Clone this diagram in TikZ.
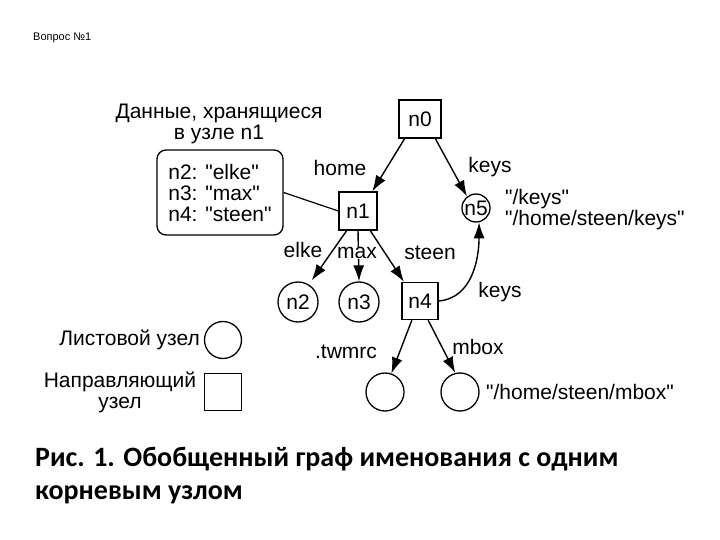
\documentclass[tikz,border=0pt]{standalone}
\usepackage{fontspec}
\newfontfamily\lsans{Liberation Sans}
\newfontfamily\capfont{Carlito}
\usetikzlibrary{arrows.meta}
\tikzset{
  dirnode/.style={draw,line width=1.3pt,rectangle,minimum width=37pt,minimum height=37pt,inner sep=0pt},
  leafnode/.style={draw,line width=1.3pt,circle,minimum size=40pt,inner sep=0pt},
  lbl/.style={inner sep=0pt},
  conn/.style={line width=1.4pt,arrows={-{Latex[length=16pt,width=11pt]}}}
}
\begin{document}
\begin{tikzpicture}[x=1pt,y=1pt,
  every node/.style={font=\lsans\fontsize{21}{21}\selectfont}]
\useasboundingbox (0,0) rectangle (720,-540);
\node[lbl,anchor=west,font=\lsans\fontsize{11}{12}\selectfont] (hdr) at (33,-38) {Вопрос №1};

\node[dirnode,minimum width=42pt,minimum height=38pt] (n0) at (420,-119) {n0};
\node[dirnode,minimum width=38pt,minimum height=38pt] (n1) at (358,-211) {n1};
\node[dirnode,minimum width=36pt] (n4) at (420,-301) {n4};
\node[leafnode,minimum size=28pt] (n5) at (476,-208) {n5};
\node[leafnode] (n2) at (298,-302) {n2};
\node[leafnode] (n3) at (359,-302) {n3};
\node[leafnode,minimum size=38pt] (l1) at (385,-392) {};
\node[leafnode,minimum size=38pt] (l2) at (460,-392) {};

\node[draw,line width=1.3pt,rounded corners=9pt,minimum width=126pt,minimum height=85pt,align=left,inner sep=0pt] (data) at (220,-192.5) {n2: "elke"\\n3: "max"\\n4: "steen"};
\node[lbl,align=center] (title) at (219,-124) {Данные, хранящиеся\\в узле n1};
\draw[line width=1.2pt] (data.east) -- (n1.west);

\draw[conn] (n0.-128) -- (n1.54);
\draw[conn] (n0.-52) -- (n5.128);
\draw[conn,shorten >=5pt] (n1.-120) -- (n2.58);
\draw[conn] (n1.south) -- (n3.north);
\draw[conn] (n1.-58) -- (n4.130);
\draw[conn] (n4.east) to[out=5,in=-90] (n5.-78);
\draw[conn] (n4.-113) -- (l1.71);
\draw[conn] (n4.-67) -- (l2.104);

\node[lbl] (thome) at (340,-168) {home};
\node[lbl] (tkeys) at (490,-167) {keys};
\node[lbl,anchor=west,align=left] (tn5) at (505,-210) {"/keys"\\"/home/steen/keys"};
\node[lbl] (telke) at (303,-250) {elke};
\node[lbl,fill=white,inner xsep=1pt] (tmax) at (357,-253) {max};
\node[lbl] (tsteen) at (430,-253) {steen};
\node[lbl] (tkeys2) at (500,-292) {keys};
\node[lbl] (ttw) at (346,-352) {.twmrc};
\node[lbl] (tmbox) at (478,-347) {mbox};
\node[lbl,anchor=west] (tmpath) at (486,-392) {"/home/steen/mbox"};

\node[leafnode,minimum size=37pt] (legc) at (223,-340) {};
\node[dirnode,minimum size=37pt] (legs) at (223,-392) {};
\node[lbl,anchor=east] (tleaf) at (200,-340) {Листовой узел};
\node[lbl,align=center] (tdir) at (120,-392) {Направляющий\\узел};

\node[lbl,anchor=base west,font=\capfont\bfseries\fontsize{28}{30}\selectfont] (cap1) at (35,-466) {Рис. 1. Обобщенный граф именования с одним};
\node[lbl,anchor=base west,font=\capfont\bfseries\fontsize{28}{30}\selectfont] (cap2) at (35,-499) {корневым узлом};
\end{tikzpicture}
\end{document}
